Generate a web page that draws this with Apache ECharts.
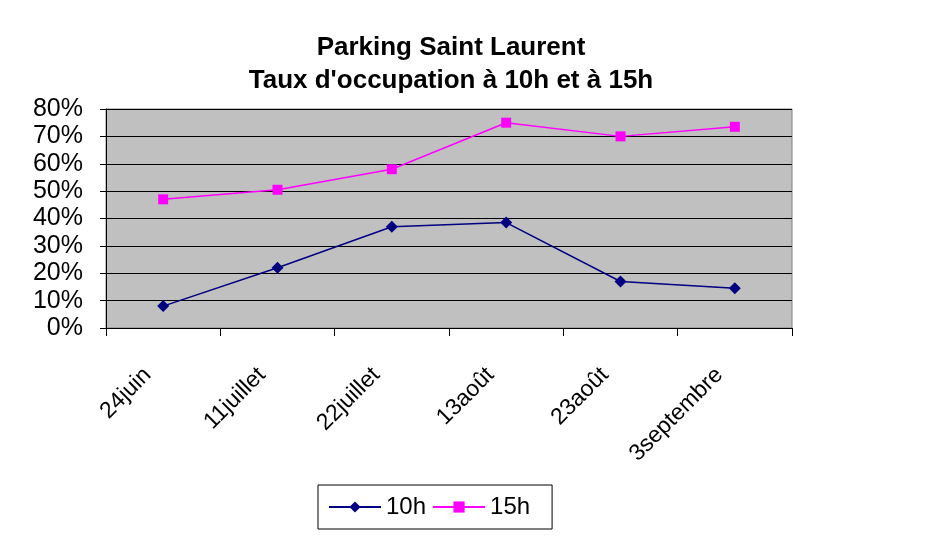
<!DOCTYPE html>
<html>
<head>
<meta charset="utf-8">
<script src="https://cdn.jsdelivr.net/npm/echarts@6/dist/echarts.min.js"></script>
<style>
html,body{margin:0;padding:0;background:#fff;}
#chart{width:927px;height:540px;}
</style>
</head>
<body>
<div id="chart"></div>
<script>
var categories = ['24juin', '11juillet', '22juillet', '13août', '23août', '3septembre'];
var val10h = [8, 22, 37, 38.5, 17, 14.5];
var val15h = [47, 50.5, 58, 75, 70, 73.5];
var yTicks = [0, 10, 20, 30, 40, 50, 60, 70, 80];

var mychart = echarts.init(document.getElementById('chart'));
var font = 'Liberation Sans, Arial, sans-serif';
var option = {
	animation: false,
	title: {
		text: 'Parking Saint Laurent\nTaux d\'occupation à 10h et à 15h',
		left: 446,
		top: 26,
		textAlign: 'center',
		textStyle: {
			fontFamily: font,
			fontSize: 26,
			fontWeight: 'bold',
			color: '#000',
			lineHeight: 33
		}
	},
	grid: {
		left: 106,
		right: 135,
		top: 109,
		bottom: 212,
		show: true,
		backgroundColor: '#c0c0c0',
		borderColor: '#808080',
		borderWidth: 1
	},
	legend: {
		data: ['10h', '15h'],
		left: 318,
		top: 485,
		borderColor: '#000',
		borderWidth: 1,
		padding: [10, 22, 10, 10],
		itemWidth: 52,
		itemHeight: 14,
		itemGap: 6,
		textStyle: {
			fontFamily: font,
			fontSize: 24,
			color: '#000'
		}
	},
	xAxis: {
		type: 'category',
		data: categories,
		boundaryGap: true,
		axisLine: {
			lineStyle: { color: '#000', width: 1 }
		},
		axisTick: {
			show: true,
			length: 8,
			lineStyle: { color: '#000' }
		},
		axisLabel: {
			rotate: 45,
			margin: 28,
			padding: [0, 22, 0, 0],
			fontFamily: font,
			fontSize: 23,
			color: '#000'
		}
	},
	yAxis: {
		type: 'value',
		min: yTicks[0],
		max: yTicks[yTicks.length - 1],
		interval: 10,
		axisLine: {
			show: true,
			lineStyle: { color: '#000', width: 1 }
		},
		axisTick: {
			show: true,
			length: 6,
			lineStyle: { color: '#000' }
		},
		splitLine: {
			show: true,
			lineStyle: { color: '#000', width: 1 }
		},
		axisLabel: {
			margin: 23,
			fontFamily: font,
			fontSize: 25,
			color: '#000',
			formatter: '{value}%'
		}
	},
	series: [{
		name: '10h',
		type: 'line',
		data: val10h,
		symbol: 'diamond',
		symbolSize: 12,
		lineStyle: { color: '#000080', width: 1.5 },
		itemStyle: { color: '#000080' }
	}, {
		name: '15h',
		type: 'line',
		data: val15h,
		symbol: 'rect',
		symbolSize: 10,
		lineStyle: { color: '#ff00ff', width: 1.5 },
		itemStyle: { color: '#ff00ff' }
	}]
};
mychart.setOption(option);
</script>
</body>
</html>
